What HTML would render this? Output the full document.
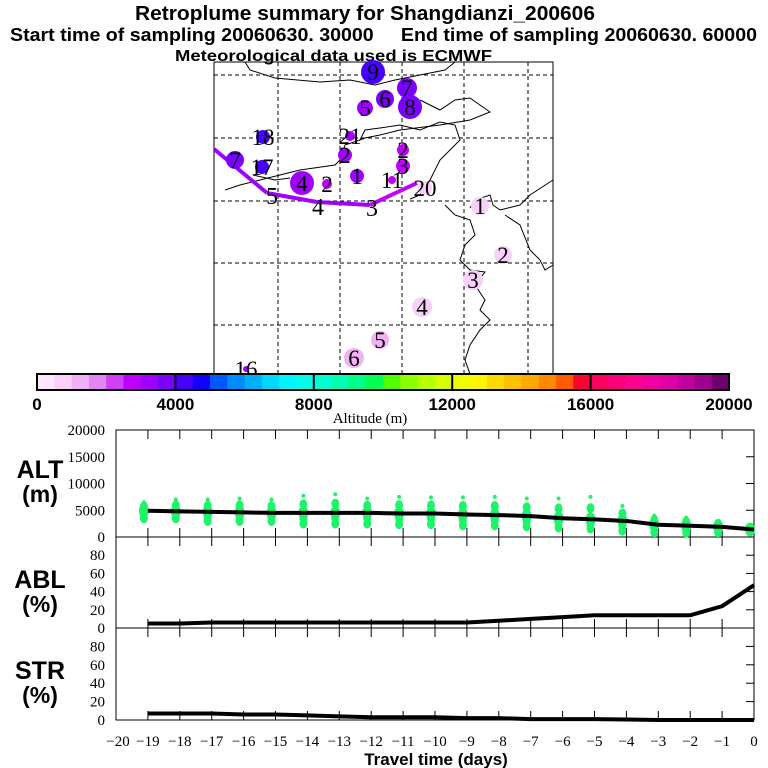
<!DOCTYPE html>
<html><head><meta charset="utf-8"><style>
body{margin:0;background:#fff}
svg{display:block}
text{font-family:"Liberation Sans",sans-serif}
.serif{font-family:"Liberation Serif",serif}
.pre{white-space:pre}
</style></head><body>
<svg id="s" width="768" height="768" viewBox="0 0 768 768" xmlns="http://www.w3.org/2000/svg">
<g font-weight="bold">
<text x="135" y="20" textLength="460" lengthAdjust="spacingAndGlyphs" font-size="20">Retroplume summary for Shangdianzi_200606</text>
<text class="pre" x="10" y="41" textLength="747" lengthAdjust="spacingAndGlyphs" font-size="18" xml:space="preserve">Start time of sampling 20060630. 30000     End time of sampling 20060630. 60000</text>
<text x="175" y="61" textLength="317" lengthAdjust="spacingAndGlyphs" font-size="16">Meteorological data used is ECMWF</text>
</g>
<g id="map"></g>
<g id="cbar"></g>
<g id="charts"></g>
</svg>
<script>
const NS="http://www.w3.org/2000/svg";
function el(tag,attrs,parent,txt){const e=document.createElementNS(NS,tag);for(const k in attrs)e.setAttribute(k,attrs[k]);if(txt!==undefined)e.textContent=txt;parent.appendChild(e);return e;}

const cbColors=["#ffe6ff","#f9d0f9","#f2b0f5","#e085f5","#d040f5","#c000ff","#a000ff","#7a00ff",
"#4800ff","#1400ff","#0058ff","#008cff","#00b0ff","#00d8ff","#00f4ff","#00ffea",
"#00ffd0","#00ffb0","#00ff88","#00ff50","#50ff00","#8cff00","#b8ff00","#d8ff00",
"#eeff00","#fff600","#ffd800","#ffc000","#ffaa00","#ff8800","#ff5c00","#ff0030",
"#ff0060","#ff0078","#ff0090","#f000a0","#e000a8","#c000a0","#a00090","#700070"];
const cbTicks=[0,4000,8000,12000,16000,20000];

const plumeLabels=["9","7","6","8","5","18","21","2","2","3","1","17","7","4","2","11","20","1","2","3","4","5","6","16"];
const plumeX=[373,407,385,410,365,263,350,345,403,403,357,262,235,302,327,392,425,480,503,473,422,380,354,246];
const plumeY=[72,88,99,107,108,137,136,155,150,166,176,167,160,183,184,180,188,206,255,280,307,340,358,369];
const plumeAlt=[4200,3700,3700,3700,3200,4200,3200,3200,2800,2800,3200,4200,3700,3200,2800,2800,900,600,600,600,900,1300,1300,3200];
const plumeR=[12,10,9,12,8,7,5,7,6,7,7,7,9,12,5,4,7,9,9,10,10,9,10,3];
const trackX=[214,267,317,370,417];
const trackY=[149,193,202,205,183];
const trackAlt=[3200,3200,3200,2700,2700];

const map=document.getElementById('map');
const M={l:214,r:553,t:62,b:374};
function colorFor(a){return cbColors[Math.max(0,Math.min(39,Math.floor(a/500)))];}
el('rect',{x:M.l,y:M.t,width:M.r-M.l,height:M.b-M.t,fill:'none',stroke:'#000','stroke-width':1},map);
[278,340,402,464,528].forEach(x=>{const g=el('line',{x1:x,y1:M.t,x2:x,y2:M.b,stroke:'#000','stroke-dasharray':'4,3','stroke-width':1},map);});
[75,138,201,263,325].forEach(y=>{const g=el('line',{x1:M.l,y1:y,x2:M.r,y2:y,stroke:'#000','stroke-dasharray':'4,3','stroke-width':1},map);});
const coasts=["M245,62 L250,70 L275,78 L320,82 L350,80 L375,85 L395,80 L420,75 L445,70 L455,62",
"M420,100 L440,110 L455,100 L470,98 L480,105 L490,112 L470,120 L440,125 L400,130 L380,135 L365,138 L360,140 L345,145 L340,160 L335,165 L300,170 L280,175 L260,180 L240,185 L225,190",
"M360,140 L365,130 L380,128 L400,125 L420,130 L440,122 L455,125 L460,140 L440,160 L430,180 L420,195 L410,199",
"M470,208 L475,200 L490,195 L493,205 L500,210 L520,205 L530,195 L553,180",
"M445,205 L455,215 L470,220 L475,235 L465,245 L460,260 L470,270 L485,272 L475,285 L485,300 L480,310 L490,320 L480,330 L470,345 L465,360 L470,374",
"M505,215 L520,225 L530,250 L540,260 L545,270 L553,265",
"M253,175 L275,180 L290,178"];
coasts.forEach(d=>{const p=el('path',{d:d,fill:'none',stroke:'#000','stroke-width':1},map);});
for(let i=0;i<trackX.length-1;i++){const l=el('line',{x1:trackX[i],y1:trackY[i],x2:trackX[i+1],y2:trackY[i+1],stroke:colorFor(trackAlt[i]),'stroke-width':4},map);}
const trackLabels=["5","4","3"];const tlx=[272,318,372],tly=[204,215,216];
trackLabels.forEach((t,i)=>{const tx=el('text',{x:tlx[i],y:tly[i],'font-size':24,'text-anchor':'middle',class:'serif'},map,t);});
plumeX.forEach((x,i)=>{
 const c=el('circle',{cx:x,cy:plumeY[i],r:plumeR[i],fill:colorFor(plumeAlt[i])},map);
 
 const t=el('text',{x:x,y:plumeY[i]+8,'font-size':23,'text-anchor':'middle',class:'serif'},map,plumeLabels[i]);
 
});

const cb=document.getElementById('cbar');
const CB={l:37,r:729,t:374,b:390};
const sw=(CB.r-CB.l)/cbColors.length;
cbColors.forEach((c,i)=>{const r=el('rect',{x:CB.l+i*sw,y:CB.t,width:sw+0.5,height:CB.b-CB.t,fill:c},cb);});
el('rect',{x:CB.l,y:CB.t,width:CB.r-CB.l,height:CB.b-CB.t,fill:'none',stroke:'#000','stroke-width':2},cb);
cbTicks.forEach(v=>{const x=CB.l+v/20000*(CB.r-CB.l);
 if(v>0&&v<20000){const l=el('line',{x1:x,y1:CB.t,x2:x,y2:CB.b,stroke:'#000','stroke-width':2},cb);}
 const t=el('text',{x:x,y:410,'font-size':17,'font-weight':'bold','text-anchor':'middle'},cb,String(v));});
const cbt=el('text',{x:370,y:423,'font-size':15,'text-anchor':'middle',class:'serif'},cb,'Altitude (m)');


const days=[-19,-18,-17,-16,-15,-14,-13,-12,-11,-10,-9,-8,-7,-6,-5,-4,-3,-2,-1,0];
const altMean=[4900,4800,4700,4600,4500,4500,4500,4500,4400,4400,4200,4100,3900,3500,3300,3000,2300,2100,1900,1400];
const altHigh=[6500,7000,7000,7200,7000,7700,8000,7200,7500,7400,7400,7500,7200,7200,7500,5800,4000,3600,3000,2000];
const altLow=[3500,3500,3000,3000,3000,2500,2500,2500,2400,2400,2200,2200,2000,1800,1600,1200,900,800,900,1200];
const ablPct=[5,5,6,6,6,6,6,6,6,6,6,8,10,12,14,14,14,14,24,47];
const strPct=[7,7,7,6,6,5,4,3,3,3,2,2,1,1,1,0.5,0,0,0,0];
const xTickLabels=["-20","-19","-18","-17","-16","-15","-14","-13","-12","-11","-10","-9","-8","-7","-6","-5","-4","-3","-2","-1","0"];
const altTicks=[0,5000,10000,15000,20000];
const pctTicks=[0,20,40,60,80];

const ch=document.getElementById('charts');
const X0=116,X1=754;
function xs(d){return X1+d*(X1-X0)/20;}
const panels=[{t:430,b:537,max:20000,ticks:altTicks,name:'alt',l1:'ALT',l2:'(m)'},
{t:537,b:628,max:100,ticks:pctTicks,name:'abl',l1:'ABL',l2:'(%)'},
{t:628,b:720,max:100,ticks:pctTicks,name:'str',l1:'STR',l2:'(%)'}];
panels.forEach(p=>{
 p.y=v=>p.b-v/p.max*(p.b-p.t);
 const g=el('g',{},ch);
 el('rect',{x:X0,y:p.t,width:X1-X0,height:p.b-p.t,fill:'none',stroke:'#000','stroke-width':1},g);
 for(let d=-19;d<=-1;d++){const x=xs(d);
  const a=el('line',{x1:x,y1:p.t,x2:x,y2:p.t+9,stroke:'#000'},g);
  const b=el('line',{x1:x,y1:p.b,x2:x,y2:p.b-9,stroke:'#000'},g);}
 p.ticks.forEach(v=>{const y=p.y(v);
  const a=el('line',{x1:X1,y1:y,x2:X1-8,y2:y,stroke:'#000'},g);
  const t=el('text',{x:105,y:y+5,'font-size':15,'text-anchor':'end',class:'serif'},g,String(v));});
 const l1=el('text',{x:40,y:p.name=='alt'?478:(p.t+51),'font-size':25,'font-weight':'bold','text-anchor':'middle'},g,p.l1);
 const l2=el('text',{x:40,y:p.name=='alt'?502:(p.t+75),'font-size':23,'font-weight':'bold','text-anchor':'middle'},g,p.l2);
});
const pA=panels[0];
days.forEach((d,i)=>{const x=xs(d)-4;
 const sp=[altLow[i],(altLow[i]+altMean[i])/2,altMean[i],(altMean[i]+altHigh[i])/2];
 sp.forEach((v,k)=>{const e=el('ellipse',{cx:x,cy:pA.y(v),rx:k==2?5:4,ry:k==2?7:5,fill:'#1ef46a'},ch);});
 const e=el('ellipse',{cx:x,cy:pA.y(altHigh[i]),rx:2,ry:2,fill:'#1ef46a'},ch);
});
function line(p,vals,name){const pts=days.map((d,i)=>xs(d)+','+p.y(vals[i])).join(' ');
 const l=el('polyline',{points:pts,fill:'none',stroke:'#000','stroke-width':4},ch);}
line(panels[0],altMean,'alt-mean-line');line(panels[1],ablPct,'abl-line');line(panels[2],strPct,'str-line');
xTickLabels.forEach((s,i)=>{const t=el('text',{x:xs(i-20)+(i==0?2:0),y:746,'font-size':15,'text-anchor':'middle',class:'serif'},ch,s.replace('-','\u2212'));});
const xt=el('text',{x:436,y:765,'font-size':17,'font-weight':'bold','text-anchor':'middle'},ch,'Travel time (days)');

</script>
</body></html>
